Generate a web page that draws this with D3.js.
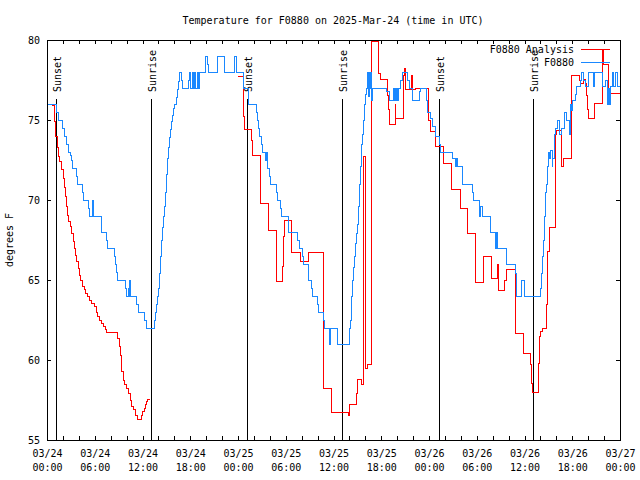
<!DOCTYPE html>
<html><head><meta charset="utf-8">
<script src="https://cdn.jsdelivr.net/npm/d3@7"></script>
<style>
body{margin:0;background:#fff}
text{font-family:"DejaVu Sans Mono",monospace;font-size:10px;fill:#000}
</style></head><body>
<svg id="c" width="640" height="480"></svg>
<script>
// ---- data (hours after 2025-03-24 00:00 UTC, degrees F) ----
const obsHours=[
0.1,1.17,1.47,2.01,2.26,2.51,2.64,2.97,3.1,3.22,
3.69,3.81,4.52,4.61,5.23,5.36,5.74,5.86,6.83,7.46,
7.58,8.46,8.59,8.71,8.84,9.88,9.96,10.2,10.3,10.4,
10.5,11.22,11.48,12.23,12.48,13.49,13.61,13.74,13.86,13.99,
14.12,14.24,14.37,14.49,14.62,14.74,14.87,15.0,15.12,15.25,
15.37,15.5,15.62,15.75,15.87,16.0,16.25,16.38,16.5,16.63,
16.88,17.0,17.75,17.85,18.05,18.25,18.4,18.55,18.7,18.85,
19.0,19.15,19.94,20.19,20.3,21.45,22.3,23.5,23.75,24.75,
25.35,26.3,26.45,26.6,26.75,26.9,27.05,27.5,27.6,27.69,
27.94,28.07,28.78,28.94,29.28,29.45,30.37,31.46,31.71,32.13,
32.21,32.84,33.22,33.34,34.01,34.14,34.72,34.85,35.56,35.65,
36.48,37.99,38.12,38.24,38.37,38.5,38.62,38.75,38.87,39.0,
39.12,39.25,39.37,39.5,39.62,39.75,39.88,40.0,40.13,40.3,
40.4,40.5,40.6,40.7,40.8,40.85,42.68,43.02,43.5,43.6,
43.7,43.8,43.9,44.0,44.15,44.4,44.69,45.32,45.5,45.91,
46.79,46.87,47.7,47.75,48.13,48.46,48.76,49.3,49.42,50.97,
51.27,51.4,51.56,52.23,53.49,53.61,54.33,54.4,54.5,54.74,
55.71,56.34,56.45,56.55,57.72,57.8,58.85,59.02,59.6,59.98,
61.99,62.12,62.24,62.37,62.5,62.62,62.75,62.87,63.0,63.12,
63.25,63.46,63.58,63.71,63.88,64.09,64.38,64.63,65.0,65.26,
65.63,65.76,65.89,66.01,66.39,66.51,67.02,67.14,67.44,67.65,
67.98,68.69,68.8,69.74,70.16,70.37,70.5,70.65,70.79,71.0,
71.21,71.42,71.63,72.0];
const obsTemps=[
76.0,75.5,75.0,74.5,74.0,73.5,73.0,72.8,72.5,72.0,
71.5,71.0,70.5,70.0,69.5,69.0,70.0,69.0,68.0,67.5,
67.0,66.5,66.0,65.5,65.0,64.5,64.0,64.5,64.0,65.0,
64.0,63.5,63.0,62.5,62.0,62.5,63.0,63.5,64.0,64.5,
65.4,66.5,67.5,68.3,69.0,69.6,70.5,71.6,72.6,73.3,
73.9,74.4,74.9,75.3,75.7,76.0,76.4,76.9,77.4,78.0,
77.5,77.0,77.5,78.0,77.0,78.0,77.0,78.0,77.0,78.0,
77.0,78.0,79.0,78.5,78.0,79.0,78.0,79.0,78.0,77.0,
76.0,75.5,75.0,74.5,74.0,73.5,73.0,72.5,73.0,72.0,
71.5,71.0,70.5,70.0,69.5,69.0,68.0,67.5,67.0,66.5,
66.0,65.0,64.5,64.0,63.5,63.0,62.5,62.0,61.0,62.0,
61.0,62.0,62.5,64.0,65.0,65.8,66.5,67.3,67.9,68.5,
69.6,71.0,72.1,73.5,74.1,75.0,76.0,76.6,77.0,78.0,
76.5,78.0,77.0,78.0,76.2,77.0,76.8,76.2,77.0,76.2,
77.0,76.2,77.0,76.2,77.0,77.5,78.0,77.5,77.0,76.2,
76.8,77.0,76.2,75.5,75.1,74.6,74.0,73.5,73.0,72.6,
72.1,72.6,72.1,71.0,70.5,70.0,69.6,69.0,69.6,69.0,
68.0,67.0,68.0,67.0,66.5,66.0,65.4,64.0,65.0,64.0,
64.5,65.4,66.5,67.5,69.0,70.5,71.0,72.1,73.0,72.6,
73.1,72.1,72.6,74.1,74.5,75.0,74.1,74.5,75.5,75.0,
74.1,76.0,75.6,76.2,76.6,77.1,77.5,78.0,77.5,77.1,
78.0,77.1,78.0,77.1,77.5,76.0,77.0,76.0,77.1,78.0,
77.1,78.0,77.1,77.1];

const anaHours=[
0.63,0.88,1.13,1.3,1.47,1.63,1.88,2.05,2.14,2.3,
2.47,2.55,2.72,2.89,3.06,3.31,3.48,3.56,3.73,3.9,
4.06,4.23,4.48,4.65,4.9,5.07,5.32,5.57,5.91,6.16,
6.33,6.58,6.83,7.08,7.33,7.5,8.84,9.09,9.26,9.42,
9.59,9.76,10.01,10.18,10.43,10.6,10.93,11.18,11.43,11.85,
12.02,12.19,12.36,12.52,12.69,12.95,13.0,24.04,24.63,24.8,
25.67,25.8,26.77,26.85,27.81,28.8,28.86,29.57,29.7,29.82,
30.75,31.88,32.84,34.8,35.8,37.9,38.07,38.83,38.96,39.5,
39.75,40.05,40.3,40.8,41.68,41.85,42.8,42.93,43.0,43.77,
43.82,44.77,44.9,45.0,45.83,45.95,46.3,47.9,48.25,48.85,
49.85,50.85,51.9,52.8,53.82,54.83,55.84,56.55,56.7,57.5,
57.75,58.85,59.9,60.72,60.9,61.05,61.75,61.85,62.05,62.2,
62.75,62.9,63.1,63.85,63.95,64.05,64.6,64.7,64.95,65.85,
66.85,67.0,67.4,67.7,67.85,67.95,68.05,68.85,69.8,69.93,
70.55,72.0];
const anaTemps=[
75.9,74.9,74.0,73.3,72.7,72.4,71.9,71.35,70.8,70.2,
69.6,69.06,68.65,68.33,67.9,67.4,67.0,66.56,66.15,65.73,
65.31,64.96,64.58,64.38,64.17,63.96,63.69,63.54,63.33,62.96,
62.7,62.44,62.29,62.08,61.88,61.7,61.35,60.83,60.3,59.27,
58.75,58.44,58.23,57.92,57.5,57.08,56.88,56.56,56.31,56.56,
56.77,56.98,57.19,57.4,57.54,57.54,null,77.75,75.2,74.42,
73.75,72.8,71.3,69.8,68.1,66.4,64.9,65.83,67.75,68.75,
66.7,66.15,66.7,58.23,56.7,56.56,57.25,57.92,58.79,58.44,
72.75,59.48,59.73,79.9,77.92,77.54,76.56,75.63,74.73,76.0,
75.1,77.8,78.2,76.9,77.8,76.9,77.0,75.0,74.27,73.33,
72.29,70.67,69.48,67.92,64.85,66.48,65.1,66.0,64.33,65.0,
65.63,61.63,60.42,59.7,58.54,57.98,59.79,61.46,61.8,61.98,
63.44,66.77,68.29,71.25,74.1,74.375,73.1,72.08,72.6,77.81,
77.5,77.29,77.54,77.29,76.56,75.63,75.1,76.04,79.42,78.5,
76.67,76.67];

const sunsetHours=[1.08,25.17,49.28];
const sunriseHours=[13.03,37.1,61.08];
const yTicks=[55,60,65,70,75,80];
const seriesNames=["F0880 Analysis","F0880"];
const seriesColors=["#ff0000","#1a88ff"];
const titleText="Temperature for F0880 on 2025-Mar-24 (time in UTC)";
const yLabel="degrees F";

// ---- layout ----
const L=47,R=620,T=40,B=440;
const base=Date.UTC(2025,2,24);
const toDate=h=>new Date(base+h*3600e3);
const x=d3.scaleUtc().domain([toDate(0),toDate(72)]).range([L,R]);
const y=d3.scaleLinear().domain([55,80]).range([B,T]);
const svg=d3.select("#c");
svg.append("rect").attr("width",640).attr("height",480).attr("fill","#fff");

const minor=d3.utcHour.every(2).range(toDate(0),toDate(72.01));
const major=d3.utcHour.every(6).range(toDate(0),toDate(72.01));
function styleAxis(g){g.select(".domain").remove();g.selectAll("line").attr("stroke","#000").attr("shape-rendering","crispEdges");}
svg.append("g").attr("transform",`translate(0,${B})`)
  .call(d3.axisBottom(x).tickValues(minor).tickSize(-4).tickFormat("")).call(styleAxis);
svg.append("g").attr("transform",`translate(0,${T})`)
  .call(d3.axisTop(x).tickValues(minor).tickSize(-4).tickFormat("")).call(styleAxis);
svg.append("g").attr("transform",`translate(${L},0)`)
  .call(d3.axisLeft(y).tickValues(yTicks).tickSize(-4).tickPadding(7).tickFormat(d3.format("d"))).call(styleAxis);
svg.append("g").attr("transform",`translate(${R},0)`)
  .call(d3.axisRight(y).tickValues(yTicks).tickSize(-4).tickFormat("")).call(styleAxis);

const fD=d3.utcFormat("%m/%d"), fT=d3.utcFormat("%H:%M");
const gx=svg.append("g").attr("transform",`translate(0,${B})`)
  .call(d3.axisBottom(x).tickValues(major).tickSize(0).tickFormat(""));
gx.select(".domain").remove();
gx.selectAll(".tick").each(function(d){
  const t=d3.select(this).append("text").attr("text-anchor","middle");
  t.append("tspan").attr("x",0).attr("y",17).text(fD(d));
  t.append("tspan").attr("x",0).attr("y",31).text(fT(d));
});

// sun lines
const sun=[...sunsetHours.map(h=>({h,l:"Sunset"})),...sunriseHours.map(h=>({h,l:"Sunrise"}))];
sun.forEach(s=>{
  const sx=Math.round(x(toDate(s.h)))+0.5;
  svg.append("line").attr("x1",sx).attr("x2",sx).attr("y1",99).attr("y2",B)
    .attr("stroke","#000").attr("stroke-width",1);
  svg.append("text").attr("transform",`translate(${sx+4},92) rotate(-90)`).text(s.l);
});

// data lines
const line=d3.line().defined(d=>d[1]!=null).x(d=>x(toDate(d[0]))).y(d=>y(d[1])).curve(d3.curveStepAfter);
const ana=anaHours.map((h,i)=>[h,anaTemps[i]]);
const obs=obsHours.map((h,i)=>[h,obsTemps[i]]);
svg.append("path").datum(ana).attr("d",line).attr("fill","none").attr("stroke",seriesColors[0]).attr("stroke-width",1).attr("shape-rendering","crispEdges");
svg.append("path").datum(obs).attr("d",line).attr("fill","none").attr("stroke",seriesColors[1]).attr("stroke-width",1).attr("shape-rendering","crispEdges");

// border
svg.append("rect").attr("x",L+0.5).attr("y",T+0.5).attr("width",R-L).attr("height",B-T)
  .attr("fill","none").attr("stroke","#000").attr("shape-rendering","crispEdges");

// legend
seriesNames.forEach((n,i)=>{
  const ly=49.5+i*13;
  svg.append("text").attr("x",574).attr("y",ly+3.5).attr("text-anchor","end").text(n);
  svg.append("line").attr("x1",581).attr("x2",610).attr("y1",ly).attr("y2",ly)
    .attr("stroke",seriesColors[i]).attr("stroke-width",1);
});

// title & y label
svg.append("text").attr("x",333).attr("y",24).attr("text-anchor","middle").text(titleText);
svg.append("text").attr("transform","translate(13,240) rotate(-90)").attr("text-anchor","middle").text(yLabel);
</script>
</body></html>
